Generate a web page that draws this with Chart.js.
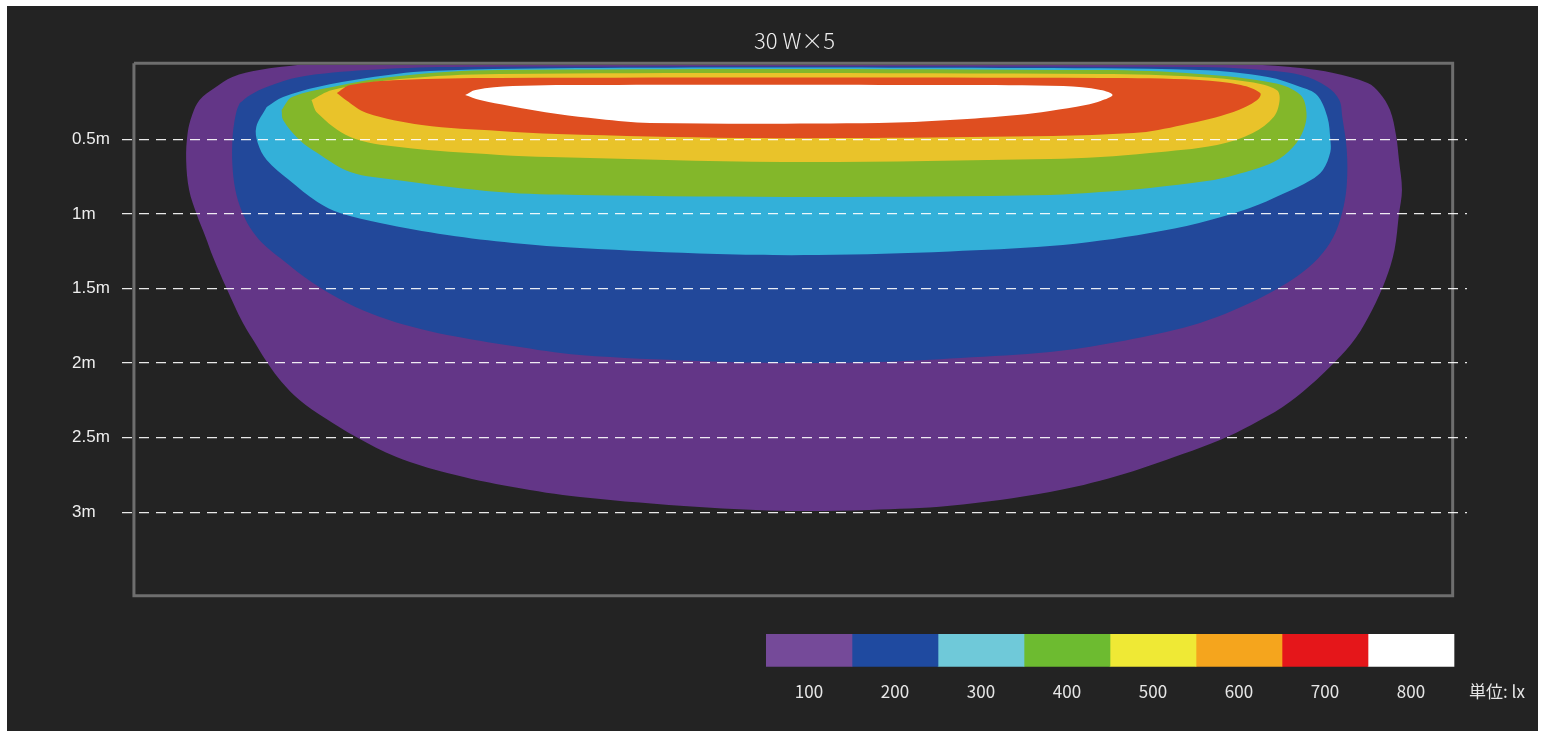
<!DOCTYPE html>
<html lang="ja">
<head>
<meta charset="UTF-8" />
<title>30 W×5 照度分布</title>
<script src="https://cdn.jsdelivr.net/npm/chart.js"></script>
<style>
  body { margin: 0; background: #fff; width: 1545px; height: 738px; overflow: hidden; position: relative; }
  #panel { position: absolute; left: 7px; top: 6px; width: 1531px; height: 725px; background: #232323; }
  #mainChart { position: absolute; left: 7px; top: 6px; }
  #scaleChart { position: absolute; left: 700px; top: 620px; }
</style>
</head>
<body>
<div id="panel"></div>
<canvas id="mainChart" width="1531" height="725"></canvas>
<canvas id="scaleChart" width="845" height="110"></canvas>

<script>
// isolux outlines: [x (m from centre), depth (m)]
const lux100 = [
  [-3.31, 0.00], [3.06, 0.00], [3.40, 0.021], [3.62, 0.055], [3.85, 0.122], [3.93, 0.189],
  [4.00, 0.303], [4.04, 0.470], [4.06, 0.638], [4.08, 0.839], [4.06, 1.000], [4.03, 1.241],
  [3.97, 1.443], [3.88, 1.643], [3.77, 1.831], [3.63, 1.992], [3.46, 2.153], [3.28, 2.294],
  [3.07, 2.414], [2.86, 2.515], [2.61, 2.609], [2.17, 2.757], [1.72, 2.864], [1.05, 2.957],
  [0.51, 2.984], [-0.02, 2.991], [-0.63, 2.964], [-1.43, 2.897], [-1.88, 2.830], [-2.32, 2.736],
  [-2.66, 2.629], [-2.93, 2.495], [-3.14, 2.368], [-3.31, 2.247], [-3.43, 2.126], [-3.52, 2.006],
  [-3.60, 1.878], [-3.69, 1.730], [-3.80, 1.496], [-3.89, 1.288], [-3.94, 1.154], [-4.00, 1.000],
  [-4.05, 0.839], [-4.07, 0.638], [-4.06, 0.457], [-4.03, 0.336], [-3.98, 0.236], [-3.88, 0.155],
  [-3.76, 0.081], [-3.58, 0.035]
];
const lux200 = [
  [-3.71, 0.256], [-3.64, 0.202], [-3.53, 0.148], [-3.31, 0.081], [-2.86, 0.035], [-2.30, 0.014],
  [2.72, 0.014], [3.06, 0.028], [3.40, 0.068], [3.58, 0.148], [3.66, 0.236], [3.68, 0.350],
  [3.71, 0.571], [3.71, 0.805], [3.68, 0.986], [3.62, 1.154], [3.52, 1.295], [3.38, 1.416],
  [3.23, 1.509], [3.06, 1.597], [2.84, 1.691], [2.61, 1.764], [2.17, 1.858], [1.72, 1.925],
  [1.12, 1.965], [0.58, 1.992], [-0.02, 1.999], [-0.63, 1.985], [-1.43, 1.945], [-1.88, 1.885],
  [-2.32, 1.811], [-2.55, 1.758], [-2.77, 1.691], [-2.99, 1.597], [-3.22, 1.463], [-3.44, 1.295],
  [-3.56, 1.194], [-3.64, 1.094], [-3.70, 0.973], [-3.74, 0.839], [-3.76, 0.671], [-3.76, 0.504],
  [-3.75, 0.403], [-3.73, 0.303]
];
const lux300 = [
  [-3.53, 0.283], [-3.42, 0.216], [-3.19, 0.148], [-2.86, 0.088], [-2.44, 0.041], [-1.30, 0.021],
  [1.39, 0.021], [2.72, 0.035], [3.18, 0.081], [3.40, 0.148], [3.51, 0.202], [3.58, 0.350],
  [3.60, 0.504], [3.60, 0.584], [3.55, 0.705], [3.47, 0.772], [3.28, 0.866], [3.06, 0.960],
  [2.72, 1.060], [2.39, 1.127], [2.06, 1.178], [1.72, 1.215], [1.05, 1.251], [0.16, 1.275],
  [-0.51, 1.268], [-1.43, 1.228], [-1.88, 1.194], [-2.32, 1.141], [-2.77, 1.060], [-3.04, 0.993],
  [-3.19, 0.919], [-3.38, 0.772], [-3.53, 0.638], [-3.59, 0.524], [-3.60, 0.417]
];
const lux400 = [
  [-3.43, 0.303], [-3.36, 0.216], [-3.09, 0.148], [-2.64, 0.075], [-1.97, 0.035], [2.06, 0.035],
  [2.72, 0.061], [3.22, 0.122], [3.40, 0.202], [3.44, 0.323], [3.42, 0.437], [3.35, 0.551],
  [3.22, 0.651], [2.96, 0.738], [2.77, 0.779], [2.39, 0.825], [2.06, 0.853], [1.72, 0.873],
  [0.16, 0.886], [-1.43, 0.873], [-1.97, 0.853], [-2.66, 0.772], [-2.97, 0.719], [-3.19, 0.591],
  [-3.31, 0.504], [-3.42, 0.370]
];
const lux500 = [
  [-3.23, 0.236], [-3.09, 0.168], [-2.64, 0.095], [-1.97, 0.061], [2.06, 0.061], [2.72, 0.081],
  [3.06, 0.115], [3.24, 0.168], [3.26, 0.236], [3.22, 0.350], [3.08, 0.457], [2.84, 0.537],
  [2.39, 0.591], [2.06, 0.618], [1.72, 0.631], [-0.07, 0.651], [-1.63, 0.618], [-1.97, 0.604],
  [-2.64, 0.551], [-2.97, 0.484], [-3.19, 0.323]
];
const lux600 = [
  [-3.06, 0.189], [-2.97, 0.135], [-2.64, 0.101], [-1.97, 0.088], [2.06, 0.088], [2.72, 0.101],
  [3.00, 0.135], [3.13, 0.189], [3.11, 0.236], [2.95, 0.316], [2.61, 0.403], [2.28, 0.457],
  [1.19, 0.484], [-0.35, 0.490], [-1.58, 0.464], [-1.97, 0.443], [-2.49, 0.403], [-2.86, 0.323],
  [-3.00, 0.236]
];
const lux700 = [
  [-2.20, 0.202], [-2.13, 0.168], [-1.88, 0.142], [-1.30, 0.135], [0.71, 0.135], [1.81, 0.142],
  [2.06, 0.168], [2.14, 0.202], [2.06, 0.242], [1.96, 0.269], [1.72, 0.309], [1.50, 0.336],
  [1.05, 0.370], [0.57, 0.390], [-0.96, 0.390], [-1.30, 0.363], [-1.58, 0.330], [-1.90, 0.276],
  [-2.10, 0.236]
];
const contours = [lux100, lux200, lux300, lux400, lux500, lux600, lux700];
const zoneColors = ['#633687', '#22489a', '#33b0d9', '#83b72a', '#e9c32a', '#df4e20', '#ffffff'];

const frameBox = [[-4.42, -0.01], [4.42, -0.01], [4.42, 3.56], [-4.42, 3.56], [-4.42, -0.01]];

const depthTicks = [0.5, 1, 1.5, 2, 2.5, 3];
const depthLabels = ['0.5m', '1m', '1.5m', '2m', '2.5m', '3m'];
const chartTitle = '30 W×5';

const legendLabels = ['100', '200', '300', '400', '500', '600', '700', '800'];
const legendColors = ['#754a99', '#1f4aa0', '#6fc9d9', '#6dbb30', '#efe935', '#f5a51d', '#e5161a', '#ffffff'];
const unitLabel = '単位: lx';

const toPoints = arr => arr.concat([arr[0]]).map(([x, y]) => ({ x, y }));

const zoneSets = contours.map((c, i) => ({
  data: toPoints(c),
  backgroundColor: zoneColors[i],
  borderWidth: 0,
  pointRadius: 0,
  tension: 0.35,
  fill: 'shape'
})).reverse();

const frameSet = {
  data: frameBox.map(([x, y]) => ({ x, y })),
  borderColor: '#6e6e6e',
  borderWidth: 3,
  pointRadius: 0,
  tension: 0,
  fill: false,
  clip: false
};

new Chart(document.getElementById('mainChart'), {
  type: 'line',
  data: { datasets: [frameSet, ...zoneSets] },
  options: {
    responsive: false,
    animation: false,
    events: [],
    layout: { padding: { left: 65, right: 71, top: 0, bottom: 135.2 } },
    plugins: { legend: { display: false }, tooltip: { enabled: false } },
    scales: {
      x: {
        type: 'linear',
        position: 'top',
        min: -4.5,
        max: 4.516,
        grid: { display: false, drawTicks: false },
        border: { display: false },
        ticks: { display: false },
        title: {
          display: true,
          text: chartTitle,
          color: '#eeeeee',
          font: { family: 'Noto Sans CJK JP, Open Sans, sans-serif', size: 22, weight: 300 },
          padding: { top: 21.8, bottom: 10.65 }
        }
      },
      y: {
        type: 'linear',
        reverse: true,
        min: 0,
        max: 3.56,
        afterBuildTicks: scale => { scale.ticks = depthTicks.map(v => ({ value: v })); },
        afterFit: scale => { scale.width = 50; },
        grid: { color: 'rgba(255,255,255,0.9)', lineWidth: 1.3, drawTicks: false, z: 1 },
        border: { display: false, dash: [10, 7] },
        ticks: {
          crossAlign: 'far',
          padding: 0,
          color: '#eeeeee',
          font: { family: 'Liberation Sans, Arial, sans-serif', size: 17 },
          callback: (v, i) => depthLabels[i]
        }
      }
    }
  }
});

// colour scale under the chart
const scaleTicks = legendLabels.map((_, i) => i + 0.5).concat([legendLabels.length + 0.5]);
const scaleTickLabels = legendLabels.concat([unitLabel]);

new Chart(document.getElementById('scaleChart'), {
  type: 'bar',
  data: {
    labels: [''],
    datasets: legendColors.map(c => ({ data: [1], backgroundColor: c, borderWidth: 0, barPercentage: 1, categoryPercentage: 1 }))
  },
  options: {
    indexAxis: 'y',
    responsive: false,
    animation: false,
    events: [],
    layout: { padding: { left: 66, right: 5, top: 14, bottom: 30.4 } },
    plugins: { legend: { display: false }, tooltip: { enabled: false } },
    scales: {
      x: {
        stacked: true,
        min: 0,
        max: 9,
        afterBuildTicks: scale => { scale.ticks = scaleTicks.map(v => ({ value: v })); },
        grid: { display: false, drawTicks: false },
        border: { display: false },
        ticks: {
          autoSkip: false,
          maxRotation: 0,
          padding: 14.4,
          color: '#e6e6e6',
          font: { family: 'Noto Sans CJK JP, Open Sans, sans-serif', size: 17 },
          callback: (v, i) => scaleTickLabels[i]
        }
      },
      y: { stacked: true, display: false }
    }
  }
});
</script>
</body>
</html>
